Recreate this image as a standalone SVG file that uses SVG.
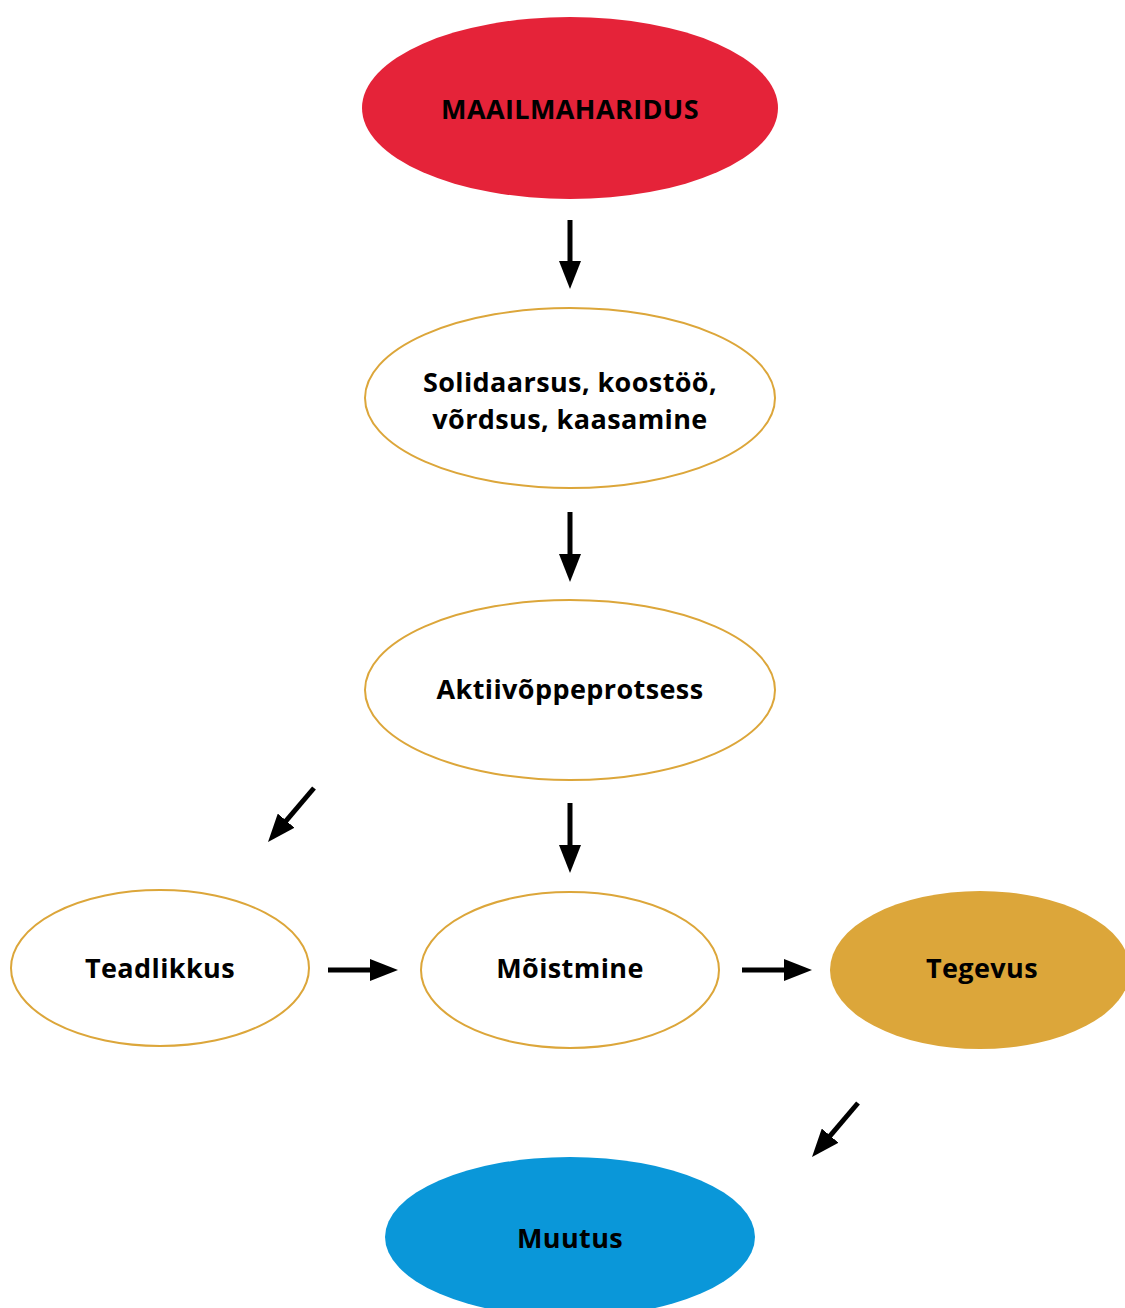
<svg xmlns="http://www.w3.org/2000/svg" width="1125" height="1308" viewBox="0 0 1125 1308">
<style>
text{font-family:"Open Sans","Lato","Liberation Sans",sans-serif;font-weight:bold;font-size:27px;letter-spacing:0.4px;fill:#000;text-anchor:middle;dominant-baseline:central}
.o{fill:#fff;stroke:#DCA63A;stroke-width:2}
.c line{stroke:#000;stroke-width:5}
</style>
<defs>
<marker id="ah" markerUnits="userSpaceOnUse" markerWidth="28" markerHeight="22" refX="10" refY="11" orient="auto" viewBox="0 0 28 22">
<path d="M0,0 L28,11 L0,22 Z" fill="#000"/>
</marker>
</defs>
<rect width="1125" height="1308" fill="#fff"/>
<g id="n1"><ellipse cx="570" cy="108" rx="208" ry="91" fill="#E52339"/><text x="570" y="108">MAAILMAHARIDUS</text></g>
<g id="n2"><ellipse class="o" cx="570" cy="398" rx="205" ry="90"/><text x="570" y="381">Solidaarsus, koostöö,</text><text x="570" y="418">võrdsus, kaasamine</text></g>
<g id="n3"><ellipse class="o" cx="570" cy="690" rx="205" ry="90"/><text x="570" y="688">Aktiivõppeprotsess</text></g>
<g id="n4"><ellipse class="o" cx="160" cy="968" rx="149" ry="78"/><text x="160" y="967">Teadlikkus</text></g>
<g id="n5"><ellipse class="o" cx="570" cy="970" rx="149" ry="78"/><text x="570" y="967">Mõistmine</text></g>
<g id="n6"><ellipse cx="980" cy="970" rx="150" ry="79" fill="#DCA63A"/><text x="982" y="967">Tegevus</text></g>
<g id="n7"><ellipse cx="570" cy="1237" rx="185" ry="80" fill="#0A97D9"/><text x="570" y="1237">Muutus</text></g>
<g class="c" id="connectors">
<line x1="570" y1="220" x2="570" y2="271" marker-end="url(#ah)"/>
<line x1="570" y1="512" x2="570" y2="564" marker-end="url(#ah)"/>
<line x1="570" y1="803" x2="570" y2="855" marker-end="url(#ah)"/>
<line x1="314" y1="788" x2="279.7" y2="828.3" marker-end="url(#ah)"/>
<line x1="328" y1="970" x2="380" y2="970" marker-end="url(#ah)"/>
<line x1="742" y1="970" x2="794" y2="970" marker-end="url(#ah)"/>
<line x1="858" y1="1103" x2="823.7" y2="1143.3" marker-end="url(#ah)"/>
</g>
</svg>
